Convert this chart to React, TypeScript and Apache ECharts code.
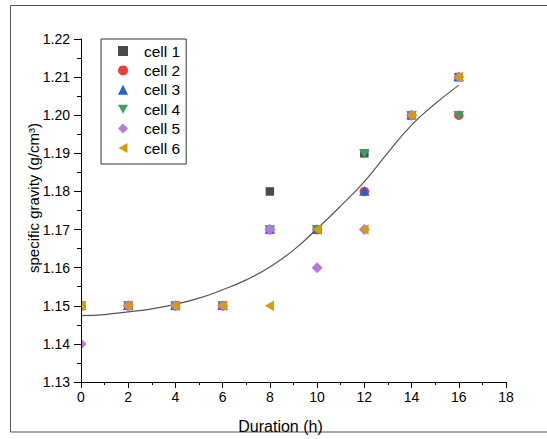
import React, { useEffect, useRef } from "react";
import * as echarts from "echarts";

const hours = [0, 2, 4, 6, 8, 10, 12, 14, 16];
const cell1 = [1.15, 1.15, 1.15, 1.15, 1.18, 1.17, 1.19, 1.2, 1.21];
const cell2 = [1.15, 1.15, 1.15, 1.15, 1.17, 1.17, 1.18, 1.2, 1.2];
const cell3 = [1.15, 1.15, 1.15, 1.15, 1.17, 1.17, 1.18, 1.2, 1.21];
const cell4 = [1.15, 1.15, 1.15, 1.15, 1.17, 1.17, 1.19, 1.2, 1.2];
const cell5 = [1.14, 1.15, 1.15, 1.15, 1.17, 1.16, 1.17, 1.2, 1.21];
const cell6 = [1.15, 1.15, 1.15, 1.15, 1.15, 1.17, 1.17, 1.2, 1.21];

const fitHours = [0, 1, 2, 3, 4, 5, 6, 7, 8, 9, 10, 11, 12, 13, 14, 15, 16];
const fitValues = [
  1.1474, 1.1477, 1.1484, 1.1492, 1.1504, 1.152, 1.1542, 1.1568, 1.1602, 1.1646,
  1.1702, 1.1762, 1.1826, 1.1902, 1.1974, 1.2030, 1.2079,
];

const seriesNames = ["cell 1", "cell 2", "cell 3", "cell 4", "cell 5", "cell 6"];
const seriesValues = [cell1, cell2, cell3, cell4, cell5, cell6];
const seriesColors = ["#4a4a4a", "#ef3b3d", "#1f63d6", "#3aa068", "#b679e0", "#d59c0b"];
const seriesShapes = ["square", "circle", "up", "down", "diamond", "left"];
const legendIcons = [
  "rect",
  "circle",
  "triangle",
  "path://M0,0L10,0L5,9Z",
  "diamond",
  "path://M0,5L9,0L9,10Z",
];
const seriesSizes = [8.5, 9.5, 10.5, 10.5, 11, 10.5];

const xTicks = { min: 0, max: 18, interval: 2 };
const yTicks = { min: 1.13, max: 1.22, interval: 0.01 };

const FONT = "'Liberation Sans', Arial, sans-serif";

function makeRender(i: number) {
  return (_params: any, api: any) => {
    const p = api.coord([api.value(0), api.value(1)]);
    const x = p[0];
    const y = p[1];
    const s = seriesSizes[i];
    const h = s / 2;
    const style = { fill: seriesColors[i] };
    switch (seriesShapes[i]) {
      case "square":
        return { type: "rect", shape: { x: x - h, y: y - h, width: s, height: s }, style };
      case "circle":
        return { type: "circle", shape: { cx: x, cy: y, r: h }, style };
      case "up":
        return { type: "polygon", shape: { points: [[x, y - h], [x + h, y + h * 0.8], [x - h, y + h * 0.8]] }, style };
      case "down":
        return { type: "polygon", shape: { points: [[x - h, y - h * 0.8], [x + h, y - h * 0.8], [x, y + h]] }, style };
      case "diamond":
        return { type: "polygon", shape: { points: [[x, y - h], [x + h, y], [x, y + h], [x - h, y]] }, style };
      default:
        return { type: "polygon", shape: { points: [[x - h, y], [x + h * 0.8, y - h], [x + h * 0.8, y + h]] }, style };
    }
  };
}

export default function App() {
  const ref = useRef<HTMLDivElement>(null);
  useEffect(() => {
    if (!ref.current) return;
    const chart = echarts.init(ref.current, null, { renderer: "svg" });
    const cells = seriesNames.map((name, i) => ({
      name,
      type: "custom",
      coordinateSystem: "cartesian2d",
      clip: true,
      data: hours.map((h, j) => [h, seriesValues[i][j]]),
      encode: { x: 0, y: 1 },
      renderItem: makeRender(i),
      itemStyle: { color: seriesColors[i] },
      z: 2,
    }));
    chart.setOption({
      animation: false,
      backgroundColor: "#ffffff",
      textStyle: { fontFamily: FONT },
      grid: { left: 81, top: 39, right: 41, bottom: 57 },
      graphic: [
        {
          type: "rect",
          shape: { x: 10.5, y: 5.5, width: 560, height: 426.5 },
          style: { fill: "none", stroke: "#555", lineWidth: 1 },
        },
      ],
      legend: {
        orient: "vertical",
        left: 101,
        top: 39,
        data: seriesNames.map((n, i) => ({ name: n, icon: legendIcons[i] })),
        itemWidth: 10,
        itemHeight: 10,
        itemGap: 3.4,
        padding: [4, 6, 8, 17],
        borderColor: "#333",
        borderWidth: 1,
        backgroundColor: "#fff",
        z: 30,
        formatter: (name: string) => "{t|" + name + "}",
        textStyle: {
          fontFamily: FONT,
          fontSize: 15.5,
          color: "#000",
          rich: {
            t: {
              fontFamily: FONT,
              fontSize: 15.5,
              color: "#000",
              lineHeight: 14,
              padding: [0, 0, 0, 11],
            },
          },
        },
      },
      xAxis: {
        type: "value",
        min: xTicks.min,
        max: xTicks.max,
        interval: xTicks.interval,
        z: 30,
        name: "Duration (h)",
        nameLocation: "middle",
        nameGap: 36,
        nameMoveOverlap: false,
        nameTextStyle: { fontFamily: FONT, fontSize: 16, color: "#000", padding: [0, 26, 0, 0] },
        axisLine: { show: true, onZero: false, lineStyle: { color: "#000", width: 1 } },
        axisTick: { show: true, inside: false, length: 6, lineStyle: { color: "#000" } },
        minorTick: { show: true, splitNumber: 2, length: 3, lineStyle: { color: "#000" } },
        splitLine: { show: false },
        axisLabel: { fontFamily: FONT, fontSize: 14, color: "#000", margin: 8 },
      },
      yAxis: {
        type: "value",
        min: yTicks.min,
        max: yTicks.max,
        interval: yTicks.interval,
        z: 30,
        name: "specific gravity (g/cm³)",
        nameLocation: "middle",
        nameGap: 40,
        nameMoveOverlap: false,
        nameTextStyle: { fontFamily: FONT, fontSize: 15, color: "#000", padding: [0, 0, 0, 25] },
        axisLine: { show: true, onZero: false, lineStyle: { color: "#000", width: 1 } },
        axisTick: { show: true, inside: false, length: 7, lineStyle: { color: "#000" } },
        minorTick: { show: true, splitNumber: 2, length: 4, lineStyle: { color: "#000" } },
        splitLine: { show: false },
        axisLabel: {
          fontFamily: FONT,
          fontSize: 14,
          color: "#000",
          margin: 11,
          formatter: (v: number) => v.toFixed(2),
        },
      },
      series: [
        {
          name: "fit",
          type: "line",
          data: fitHours.map((h, j) => [h, fitValues[j]]),
          smooth: true,
          showSymbol: false,
          symbol: "none",
          lineStyle: { color: "#555", width: 1.2 },
          z: 1,
        },
        ...cells,
      ],
    });
    return () => chart.dispose();
  }, []);
  return (
    <div
      ref={ref}
      style={{ position: "fixed", left: 0, top: 0, width: 547, height: 439 }}
    />
  );
}
